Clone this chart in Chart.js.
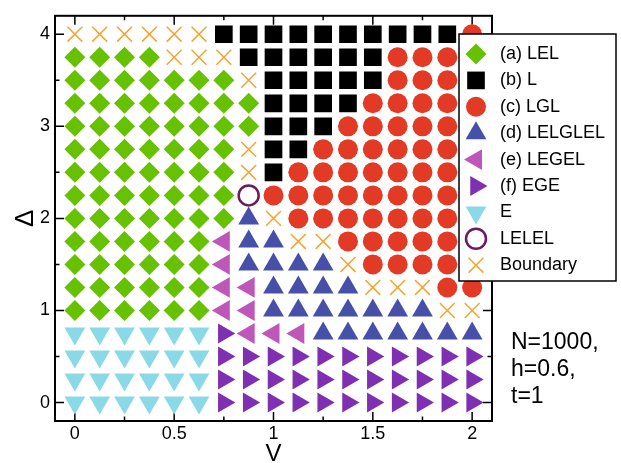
<!DOCTYPE html>
<html>
<head>
<meta charset="utf-8">
<script src="https://cdn.jsdelivr.net/npm/chart.js@4.4.1/dist/chart.umd.min.js"></script>
<style>
  body { margin: 0; background: #fff; }
  canvas { display: block; }
</style>
</head>
<body>
<canvas id="phaseChart" width="621" height="463"></canvas>
<script>
// Diagrama de fases: V en el eje x, Delta en el eje y
const vValues = [0, 0.125, 0.25, 0.375, 0.5, 0.625, 0.75, 0.875, 1, 1.125, 1.25, 1.375, 1.5, 1.625, 1.75, 1.875, 2];
const deltaValues = [4, 3.75, 3.5, 3.25, 3, 2.75, 2.5, 2.25, 2, 1.75, 1.5, 1.25, 1, 0.75, 0.5, 0.25, 0];

// una fila por cada Delta (de arriba a abajo), una letra por cada V
// A=LEL B=L C=LGL D=LELGLEL E=LEGEL F=EGE G=E O=LELEL X=Boundary
const phaseRows = [
  'XXXXXXBBBBBBBBBBC',
  'AAAAXXXBBBBBBCCCC',
  'AAAAAAAXBBBBBCCCC',
  'AAAAAAAABBBBCCCCC',
  'AAAAAAAABBBCCCCCC',
  'AAAAAAAXBBCCCCCCC',
  'AAAAAAAXBCCCCCCCC',
  'AAAAAAAOCCCCCCCCC',
  'AAAAAAADXCCCCCCCC',
  'AAAAAAEDDXXCCCCCC',
  'AAAAAAEDDDDXCCCCC',
  'AAAAAAEEDDDDXXXCC',
  'AAAAAAEEDDDDDDDXX',
  'GGGGGGFEEEDDDDDDD',
  'GGGGGGFFFFFFFFFFF',
  'GGGGGGFFFFFFFFFFF',
  'GGGGGGFFFFFFFFFFF'
];

const phaseCodes = ['A', 'B', 'C', 'D', 'E', 'F', 'G', 'O', 'X'];
const phaseLabels = ['(a) LEL', '(b) L', '(c) LGL', '(d) LELGLEL', '(e) LEGEL', '(f) EGE', 'E', 'LELEL', 'Boundary'];
const xLabelTicks = [0, 0.5, 1, 1.5, 2];
const yLabelTicks = [0, 1, 2, 3, 4];
const infoLines = ['N=1000,', 'h=0.6,', 't=1'];

const FONT = '"Liberation Sans", Arial, Helvetica, sans-serif';

// estilo de cada marcador
const markerStyles = {
  A: { pointStyle: 'rectRot', pointRadius: 10.5, pointRotation: 0, backgroundColor: '#66c100', borderColor: '#66c100', borderWidth: 0 },
  B: { pointStyle: 'rect', pointRadius: 12.5, pointRotation: 0, backgroundColor: '#000000', borderColor: '#000000', borderWidth: 0 },
  C: { pointStyle: 'circle', pointRadius: 10, pointRotation: 0, backgroundColor: '#e23a24', borderColor: '#e23a24', borderWidth: 0 },
  D: { pointStyle: 'triangle', pointRadius: 12, pointRotation: 0, backgroundColor: '#4650a8', borderColor: '#4650a8', borderWidth: 0 },
  E: { pointStyle: 'triangle', pointRadius: 12, pointRotation: -90, backgroundColor: '#bf57ba', borderColor: '#bf57ba', borderWidth: 0 },
  F: { pointStyle: 'triangle', pointRadius: 11.5, pointRotation: 90, backgroundColor: '#7f2fb2', borderColor: '#7f2fb2', borderWidth: 0 },
  G: { pointStyle: 'triangle', pointRadius: 12, pointRotation: 180, backgroundColor: '#8ad9e6', borderColor: '#8ad9e6', borderWidth: 0 },
  O: { pointStyle: 'circle', pointRadius: 10, pointRotation: 0, backgroundColor: 'rgba(0,0,0,0)', borderColor: '#6b1d5e', borderWidth: 2.5 },
  X: { pointStyle: 'crossRot', pointRadius: 10.5, pointRotation: 0, backgroundColor: '#f8a32e', borderColor: '#f8a32e', borderWidth: 1.5 }
};

// construimos un dataset por fase a partir de la rejilla
const datasets = phaseCodes.map((code, i) => {
  const points = [];
  phaseRows.forEach((row, r) => {
    for (let c = 0; c < row.length; c++) {
      if (row[c] === code) points.push({ x: vValues[c], y: deltaValues[r] });
    }
  });
  return Object.assign({ label: phaseLabels[i], data: points, code: code }, markerStyles[code]);
});

// marco con marcas hacia dentro, leyenda encima de los puntos y texto
const framePlugin = {
  id: 'frame',
  beforeDatasetsDraw(chart) {
    const { ctx, chartArea: a, scales: { x, y } } = chart;
    ctx.save();
    ctx.strokeStyle = '#000';
    ctx.lineWidth = 1.5;
    for (let v = 0; v <= 2.0001; v += 0.25) {
      const px = x.getPixelForValue(v);
      const len = Math.abs(v * 2 - Math.round(v * 2)) < 1e-6 ? 9 : 4.5;
      ctx.beginPath();
      ctx.moveTo(px, a.bottom); ctx.lineTo(px, a.bottom - len);
      ctx.moveTo(px, a.top); ctx.lineTo(px, a.top + len);
      ctx.stroke();
    }
    for (let d = 0; d <= 4.0001; d += 0.5) {
      const py = y.getPixelForValue(d);
      const len = Math.abs(d - Math.round(d)) < 1e-6 ? 9 : 4.5;
      ctx.beginPath();
      ctx.moveTo(a.left, py); ctx.lineTo(a.left + len, py);
      ctx.moveTo(a.right, py); ctx.lineTo(a.right - len, py);
      ctx.stroke();
    }
    ctx.lineWidth = 2;
    ctx.strokeRect(a.left, a.top, a.right - a.left, a.bottom - a.top);
    ctx.restore();
  },
  afterDraw(chart) {
    const { ctx } = chart;
    ctx.save();
    // caja de la leyenda
    const box = { x: 459, y: 34, w: 157, h: 247 };
    ctx.fillStyle = '#fff';
    ctx.fillRect(box.x, box.y, box.w, box.h);
    ctx.strokeStyle = '#000';
    ctx.lineWidth = 1.5;
    ctx.strokeRect(box.x, box.y, box.w, box.h);
    ctx.font = '18px ' + FONT;
    ctx.textBaseline = 'middle';
    chart.data.datasets.forEach((ds, i) => {
      const yy = 54 + i * 26.4;
      ctx.fillStyle = ds.backgroundColor;
      ctx.strokeStyle = ds.borderColor;
      ctx.lineWidth = ds.borderWidth;
      Chart.helpers.drawPoint(ctx, {
        pointStyle: ds.pointStyle, rotation: ds.pointRotation,
        radius: ds.pointRadius, borderWidth: ds.borderWidth
      }, 476, yy);
      ctx.fillStyle = '#000';
      ctx.fillText(ds.label, 500, yy);
    });
    // texto de parametros
    ctx.font = '23px ' + FONT;
    infoLines.forEach((t, i) => ctx.fillText(t, 511, 343 + i * 27));
    ctx.restore();
  }
};

const ctx = document.getElementById('phaseChart').getContext('2d');
const phaseChart = new Chart(ctx, {
  type: 'scatter',
  data: { datasets: datasets },
  options: {
    responsive: false,
    animation: false,
    events: [],
    layout: { padding: { top: 10, right: 129, left: 0, bottom: 0 } },
    plugins: { legend: { display: false }, tooltip: { enabled: false } },
    scales: {
      x: {
        type: 'linear', min: -0.1, max: 2.1,
        afterFit: (s) => { s.height = 42; },
        afterBuildTicks: (s) => { s.ticks = xLabelTicks.map(v => ({ value: v })); },
        grid: { display: false, drawTicks: false },
        border: { display: false },
        ticks: { color: '#000', font: { size: 18, family: FONT }, padding: 2, maxRotation: 0, autoSkip: false,
                 callback: (v) => String(v) },
        title: { display: true, text: 'V', color: '#000', font: { size: 24, family: FONT }, padding: { top: 0, bottom: -6 } }
      },
      y: {
        type: 'linear', min: -0.2, max: 4.2,
        afterFit: (s) => { s.width = 55; },
        afterBuildTicks: (s) => { s.ticks = yLabelTicks.map(v => ({ value: v })); },
        grid: { display: false, drawTicks: false },
        border: { display: false },
        ticks: { color: '#000', font: { size: 18, family: FONT }, padding: 5, autoSkip: false,
                 callback: (v) => String(v) },
        title: { display: true, text: 'Δ', color: '#000', font: { size: 26, family: FONT }, padding: { top: 10, bottom: 0 } }
      }
    }
  },
  plugins: [framePlugin]
});
</script>
</body>
</html>
